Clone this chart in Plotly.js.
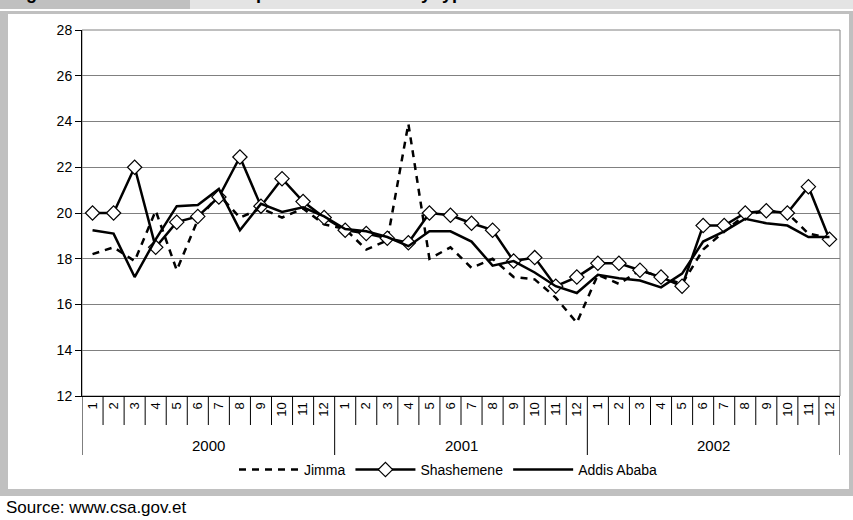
<!DOCTYPE html>
<html><head><meta charset="utf-8">
<script src="https://cdn.plot.ly/plotly-3.0.1.min.js"></script>
<style>html,body{margin:0;padding:0;background:#fff}#chart{width:853px;height:520px}</style>
</head><body><div id="chart"></div>
<script>
const years = ['2000', '2001', '2002'];
const months = ['1','2','3','4','5','6','7','8','9','10','11','12'];
const jimma = [18.2, 18.5, 17.9, 20.1, 17.5, 19.7, 20.8, 19.8, 20.2, 19.8, 20.2, 19.5,
               19.3, 18.4, 18.8, 23.9, 18.0, 18.5, 17.6, 18.0, 17.2, 17.1, 16.3, 15.2,
               17.3, 16.9, 17.5, 17.2, 16.9, 18.4, 19.2, 19.9, 20.1, 20.0, 19.1, 18.9];
const shashemene = [20.0, 20.0, 22.0, 18.5, 19.6, 19.85, 20.7, 22.45, 20.3, 21.5, 20.5, 19.8,
                    19.25, 19.1, 18.9, 18.7, 20.0, 19.9, 19.55, 19.25, 17.9, 18.05, 16.8, 17.2,
                    17.8, 17.8, 17.5, 17.2, 16.8, 19.45, 19.45, 20.0, 20.1, 20.0, 21.15, 18.85];
const addis = [19.25, 19.1, 17.2, 18.85, 20.3, 20.35, 21.05, 19.25, 20.4, 20.05, 20.25, 19.85,
               19.3, 19.2, 18.95, 18.55, 19.2, 19.2, 18.75, 17.7, 17.9, 17.4, 16.8, 16.5,
               17.3, 17.15, 17.05, 16.75, 17.35, 18.75, 19.2, 19.75, 19.55, 19.45, 18.95, 18.95];
const seriesNames = ['Jimma', 'Shashemene', 'Addis Ababa'];
const titleLeft = 'Figure 4:';
const titleRight = 'Retail price of white teff by type of market in selected towns';
const sourceText = 'Source: www.csa.gov.et';

const cats = [], catText = [];
years.forEach(y => months.forEach(m => { cats.push(y + '-' + m); catText.push(m); }));

const L = 82, R = 840, T = 30, B = 396;
const px = v => (v - L) / (R - L);
const py = v => (B - v) / (B - T);
const FONT = 'Liberation Sans, Arial, sans-serif';

const shapes = [];
const gray = '#c0c0c0';
shapes.push({type:'rect', xref:'paper', yref:'paper', x0:px(0), x1:px(190), y0:py(0), y1:py(9), fillcolor:gray, line:{width:0}, layer:'below'});
shapes.push({type:'rect', xref:'paper', yref:'paper', x0:px(190), x1:px(853), y0:py(0), y1:py(9), fillcolor:'#e4e4e4', line:{width:0}, layer:'below'});
shapes.push({type:'rect', xref:'paper', yref:'paper', x0:px(0), x1:px(853), y0:py(11), y1:py(14), fillcolor:gray, line:{width:0}, layer:'below'});
shapes.push({type:'rect', xref:'paper', yref:'paper', x0:px(0), x1:px(8), y0:py(11), y1:py(496), fillcolor:gray, line:{width:0}, layer:'below'});
shapes.push({type:'rect', xref:'paper', yref:'paper', x0:px(849), x1:px(853), y0:py(11), y1:py(496), fillcolor:gray, line:{width:0}, layer:'below'});
shapes.push({type:'rect', xref:'paper', yref:'paper', x0:px(0), x1:px(853), y0:py(489), y1:py(496), fillcolor:gray, line:{width:0}, layer:'below'});
shapes.push({type:'rect', xref:'paper', yref:'paper', x0:0, x1:1, y0:0, y1:1, line:{color:'#808080', width:1}, layer:'below'});
for (let i = 0; i <= cats.length; i++) {
  const isYear = i % months.length === 0;
  shapes.push({type:'line', xref:'x', yref:'paper', x0:i - 0.5, x1:i - 0.5, y0:0, y1:py(isYear ? 455 : 425),
               line:{color:'#000', width:1}});
}

const annotations = [];
years.forEach((y, k) => {
  annotations.push({xref:'x', yref:'paper', x:k * months.length + (months.length - 1) / 2, y:py(445),
                    text:y, showarrow:false, font:{family:FONT, size:15, color:'#000'}, yanchor:'middle'});
});
annotations.push({xref:'paper', yref:'paper', x:px(4), y:py(508), xanchor:'left', yanchor:'middle',
                  text:sourceText, showarrow:false, font:{family:FONT, size:17, color:'#000'}});
annotations.push({xref:'paper', yref:'paper', x:px(8), y:py(-7), xanchor:'left', yanchor:'middle',
                  text:'<b>' + titleLeft + '</b>', showarrow:false, font:{family:FONT, size:18, color:'#000'}});
annotations.push({xref:'paper', yref:'paper', x:px(200), y:py(-7), xanchor:'left', yanchor:'middle',
                  text:'<b>' + titleRight + '</b>', showarrow:false, font:{family:FONT, size:18, color:'#000'}});

const traces = [
  {x:cats, y:jimma, name:seriesNames[0], type:'scatter', mode:'lines',
   line:{color:'#000', width:2.5, dash:'7px,6px'}},
  {x:cats, y:shashemene, name:seriesNames[1], type:'scatter', mode:'lines+markers',
   line:{color:'#000', width:2.5}, marker:{symbol:'diamond', size:11, color:'#fff', line:{color:'#000', width:1.2}}},
  {x:cats, y:addis, name:seriesNames[2], type:'scatter', mode:'lines',
   line:{color:'#000', width:2.5}}
];

const layout = {
  width:853, height:520,
  margin:{l:L, r:853 - R, t:T, b:520 - B, pad:0},
  paper_bgcolor:'#fff', plot_bgcolor:'#fff',
  font:{family:FONT, size:14, color:'#000'},
  showlegend:true,
  legend:{orientation:'h', x:px(448), xanchor:'center', y:py(470), yanchor:'middle',
          font:{family:FONT, size:14, color:'#000'}, bgcolor:'rgba(0,0,0,0)', itemwidth:60, tracegroupgap:0},
  xaxis:{type:'category', categoryorder:'array', categoryarray:cats, range:[-0.5, cats.length - 0.5],
         tickvals:cats, ticktext:catText, tickangle:-90, ticks:'', showgrid:false, zeroline:false,
         showline:true, linecolor:'#000', linewidth:1, tickfont:{family:FONT, size:13, color:'#000'}, fixedrange:true},
  yaxis:{range:[12, 28], dtick:2, tick0:12, ticks:'outside', ticklen:6, tickcolor:'#000', tickwidth:1,
         showline:true, linecolor:'#000', linewidth:1, showgrid:true, gridcolor:'#808080', gridwidth:1,
         zeroline:false, tickfont:{family:FONT, size:14, color:'#000'}, fixedrange:true},
  shapes:shapes, annotations:annotations
};
Plotly.newPlot('chart', traces, layout, {displayModeBar:false, staticPlot:true});
</script></body></html>
